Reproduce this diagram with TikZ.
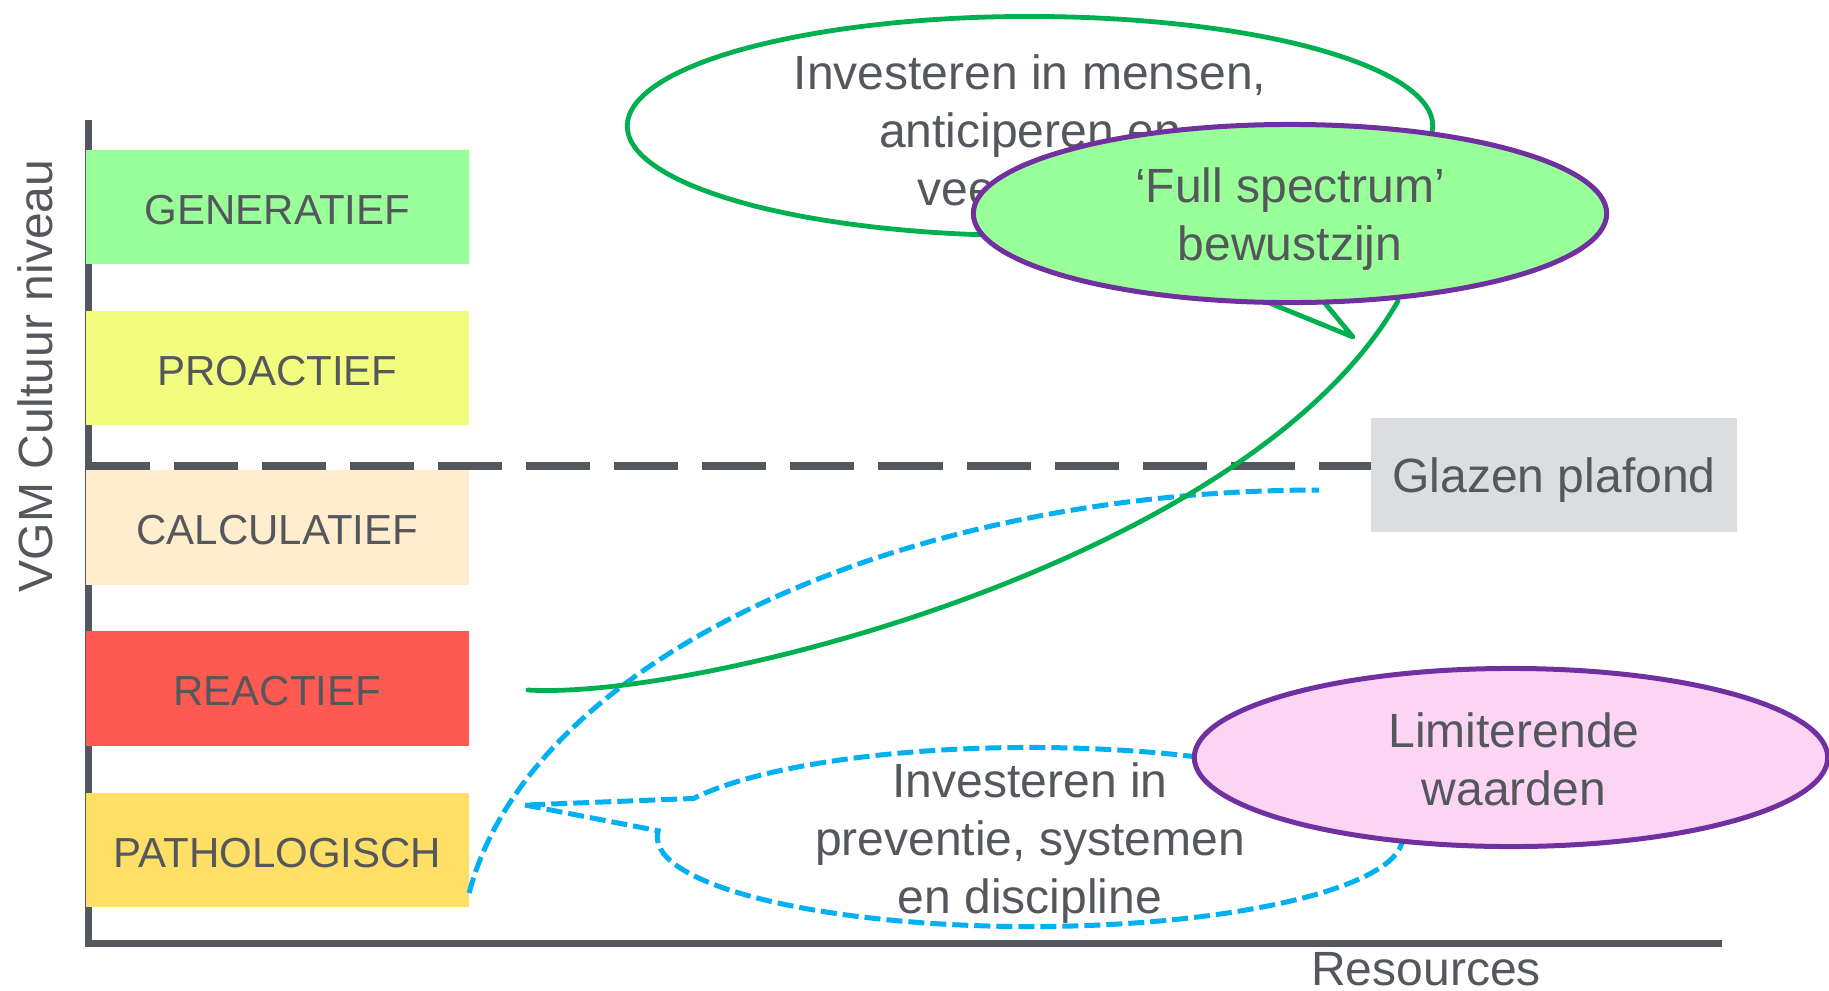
\documentclass[tikz,border=0pt]{standalone}
\usepackage{fontspec}
\setmainfont{Liberation Sans}
\usetikzlibrary{shapes.geometric,calc}
\definecolor{txtgray}{HTML}{54575C}
\definecolor{vgmgreen}{HTML}{00B050}
\definecolor{vgmblue}{HTML}{00B0F0}
\definecolor{vgmpurple}{HTML}{7030A0}
\definecolor{fsgreen}{HTML}{99FF99}
\definecolor{pinkfill}{HTML}{FCD5F5}
\definecolor{cgen}{HTML}{99FF99}
\definecolor{cpro}{HTML}{F2FD80}
\definecolor{ccal}{HTML}{FFEDCD}
\definecolor{crea}{HTML}{FF5A52}
\definecolor{cpat}{HTML}{FFDF66}
\definecolor{glassgray}{HTML}{DCDDDE}
\begin{document}
\begin{tikzpicture}[x=0.01cm,y=-0.01cm,
  lvl/.style={rectangle, minimum width=3.832cm, minimum height=1.14cm, inner sep=0pt, outer sep=0pt, text=txtgray, font=\fontsize{11.95}{14}\selectfont, text height=0.34cm, text depth=0cm},
  bigtxt/.style={text=txtgray, font=\fontsize{13.66}{16.5}\selectfont, align=center, inner sep=0pt, outer sep=0pt},
  oval/.style={ellipse, draw=vgmpurple, line width=0.05cm, minimum width=6.33cm, minimum height=1.78cm, inner sep=0pt, outer sep=0pt},
  axisline/.style={draw=txtgray, line width=0.07cm, miter limit=10},
  ceiling/.style={draw=txtgray, line width=0.08cm, dash pattern=on 0.64cm off 0.24cm},
  greenline/.style={draw=vgmgreen, line width=0.048cm, line join=round, line cap=round},
  bluedash/.style={draw=vgmblue, line width=0.05cm, dash pattern=on 0.16cm off 0.06cm}
]
\useasboundingbox (0,0) rectangle (1829,990);
\fill[white] (0,0) rectangle (1829,990);

% axes
\coordinate (ytop) at (88.5,120);
\coordinate (orig) at (88.5,943.5);
\coordinate (xend) at (1722,943.5);
\draw[axisline] (ytop) -- (orig) -- (xend);

% glass ceiling
\node[rectangle, fill=glassgray, minimum width=3.66cm, minimum height=1.14cm, inner sep=0pt, outer sep=0pt, text=txtgray, font=\fontsize{13.66}{16.5}\selectfont, text height=0.45cm, text depth=0.10cm] (glas) at (1554,475) {Glazen plafond};
\coordinate (c0) at (86,466);
\draw[ceiling] (c0) -- (c0 -| glas.west);

% level boxes
\node[lvl, fill=cgen] (gen) at (277.4,207) {GENERATIEF};
\node[lvl, fill=cpro] (pro) at (277.4,368) {PROACTIEF};
\node[lvl, fill=ccal] (cal) at (277.4,527.5) {CALCULATIEF};
\node[lvl, fill=crea] (rea) at (277.4,688.5) {REACTIEF};
\node[lvl, fill=cpat] (pat) at (277.4,850) {PATHOLOGISCH};

% green callout
\coordinate (gc) at (1030,126);
\coordinate (gtip) at (1353,337);
\draw[greenline, fill=white] (gtip) -- ($(gc)+(-56.3:4.025cm and 1.095cm)$)
  arc[start angle=-56.3, end angle=280, x radius=4.025cm, y radius=1.095cm] -- cycle;
\node[bigtxt] (gtext) at (1030,130.5) {Investeren in mensen,\\anticiperen en\\veerkracht};

% blue curve from PATHOLOGISCH
\coordinate (b1) at ($(pat.east)+(0,43)$);
\coordinate (b2) at (1319,490);
\draw[bluedash] (b1) .. controls (530,660) and (900,490) .. (b2);

% blue callout
\coordinate (bc) at (1030,837);
\coordinate (btip) at (525,805);
\draw[bluedash] (btip) -- ($(bc)+(176:3.725cm and 0.895cm)$)
  arc[start angle=176, end angle=514.5, x radius=3.725cm, y radius=0.895cm] -- cycle;
\node[bigtxt] (btext) at (1030,843) {Investeren in\\preventie, systemen\\en discipline};

% green curve from REACTIEF level up to the full-spectrum ellipse
\coordinate (g1) at (528,690);
\coordinate (g2) at (1398,301);
\draw[greenline] (g1) .. controls (700,700) and (1250,560) .. (g2);

% ellipses
\node[oval, fill=fsgreen] (fs) at (1290,213.5) {};
\node[bigtxt] (fstext) at (1290,219.5) {‘Full spectrum’\\bewustzijn};
\node[oval, fill=pinkfill] (lim) at (1511,757.5) {};
\node[bigtxt] (limtext) at (1514,759.5) {Limiterende\\waarden};

% axis labels
\node[bigtxt] (res) at (1426,969) {Resources};
\node[bigtxt, rotate=90] (vgm) at (35,376) {VGM Cultuur niveau};
\end{tikzpicture}
\end{document}
